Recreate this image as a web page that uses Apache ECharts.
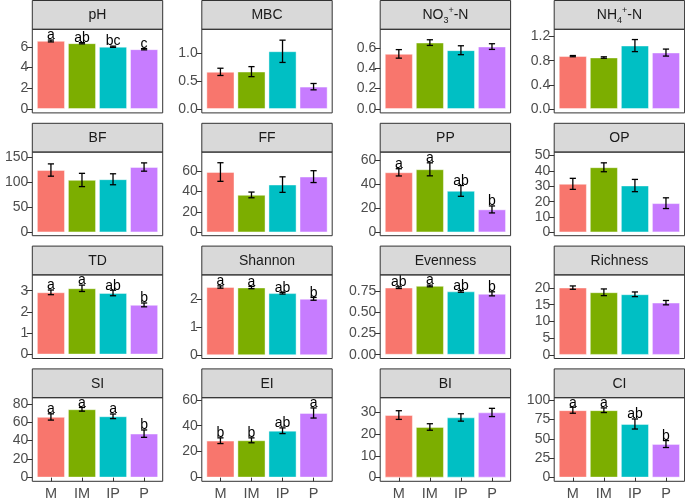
<!DOCTYPE html>
<html>
<head>
<meta charset="utf-8">
<script src="https://cdn.jsdelivr.net/npm/echarts@6/dist/echarts.min.js"></script>
<style>html,body{margin:0;padding:0;background:#fff}#c{width:685px;height:501px}</style>
</head>
<body>
<div id="c"></div>
<script>
// ---- data ----
const groups = ['M', 'IM', 'IP', 'P'];
const colors = ['#F8766D', '#7CAE00', '#00BFC4', '#C77CFF'];
const panelNames = ['pH','MBC','NO3','NH4','BF','FF','PP','OP','TD','Shannon','Evenness','Richness','SI','EI','BI','CI'];

const mean_pH = [6.58, 6.36, 6.02, 5.78];      const se_pH = [0.09, 0.06, 0.06, 0.06];
const mean_MBC = [0.666, 0.67, 1.035, 0.40];   const se_MBC = [0.065, 0.09, 0.2, 0.057];
const mean_NO3 = [0.542, 0.653, 0.578, 0.614]; const se_NO3 = [0.042, 0.028, 0.044, 0.028];
const mean_NH4 = [0.875, 0.852, 1.05, 0.934];  const se_NH4 = [0.01, 0.012, 0.1, 0.058];
const mean_BF = [124.7, 104.8, 106.2, 130.7];  const se_BF = [12.3, 13.3, 11, 8.3];
const mean_FF = [59, 36.6, 46.7, 54.5];        const se_FF = [9.1, 2.8, 7.6, 5.8];
const mean_PP = [49.8, 52.3, 34.4, 19];        const se_PP = [3, 5.4, 4.5, 2.9];
const mean_OP = [31.6, 42.4, 30.5, 19];        const se_OP = [3.6, 2.9, 4, 3.5];
const mean_TD = [2.92, 3.11, 2.89, 2.33];      const se_TD = [0.11, 0.15, 0.13, 0.09];
const mean_Shannon = [2.42, 2.40, 2.2, 2.0];   const se_Shannon = [0.04, 0.04, 0.03, 0.05];
const mean_Evenness = [0.79, 0.81, 0.745, 0.717]; const se_Evenness = [0.01, 0.01, 0.01, 0.024];
const mean_Richness = [20.1, 18.7, 18.1, 15.6];   const se_Richness = [0.5, 1.0, 0.7, 0.65];
const mean_SI = [65.7, 74, 66.4, 47.6];        const se_SI = [3.4, 2, 2.5, 4];
const mean_EI = [28.4, 28.7, 36.1, 49.8];      const se_EI = [2.2, 1.9, 2.2, 3.9];
const mean_BI = [28.8, 23.3, 27.7, 30];        const se_BI = [2, 1.5, 1.7, 1.9];
const mean_CI = [87, 87, 69.2, 43.3];          const se_CI = [3.9, 3, 6.5, 4.5];

const letters_pH = ['a', 'ab', 'bc', 'c'];
const letters_PP = ['a', 'a', 'ab', 'b'];
const letters_TD = ['a', 'a', 'ab', 'b'];
const letters_Shannon = ['a', 'a', 'ab', 'b'];
const letters_Evenness = ['ab', 'a', 'ab', 'b'];
const letters_SI = ['a', 'a', 'a', 'b'];
const letters_EI = ['b', 'b', 'ab', 'a'];
const letters_CI = ['a', 'a', 'ab', 'b'];

const yMin = [-0.385, -0.071, -0.039, -0.066, -6.8, -3.3, -2.8, -2.2, -0.19, -0.12, -0.045, -1.1, -3.8, -2.7, -1.6, -4.5];
const yMax = [7.71, 1.43, 0.784, 1.32, 160.6, 78.5, 66.6, 52.3, 3.74, 2.85, 0.94, 23.9, 86.6, 61.6, 36.8, 103.2];

const ticks_pH = [0, 2, 4, 6];
const ticks_MBC = [0, 0.5, 1.0];
const ticks_NO3 = [0, 0.2, 0.4, 0.6];
const ticks_NH4 = [0, 0.4, 0.8, 1.2];
const ticks_BF = [0, 50, 100, 150];
const ticks_FF = [0, 20, 40, 60];
const ticks_PP = [0, 20, 40, 60];
const ticks_OP = [0, 10, 20, 30, 40, 50];
const ticks_TD = [0, 1, 2, 3];
const ticks_Shannon = [0, 1, 2];
const ticks_Evenness = [0, 0.25, 0.5, 0.75];
const ticks_Richness = [0, 5, 10, 15, 20];
const ticks_SI = [0, 20, 40, 60, 80];
const ticks_EI = [0, 20, 40, 60];
const ticks_BI = [0, 10, 20, 30];
const ticks_CI = [0, 25, 50, 75, 100];
const tickDecimals = [0, 1, 1, 1, 0, 0, 0, 0, 0, 0, 2, 0, 0, 0, 0, 0];

const D = {
  pH: [mean_pH, se_pH, letters_pH, ticks_pH],
  MBC: [mean_MBC, se_MBC, null, ticks_MBC],
  NO3: [mean_NO3, se_NO3, null, ticks_NO3],
  NH4: [mean_NH4, se_NH4, null, ticks_NH4],
  BF: [mean_BF, se_BF, null, ticks_BF],
  FF: [mean_FF, se_FF, null, ticks_FF],
  PP: [mean_PP, se_PP, letters_PP, ticks_PP],
  OP: [mean_OP, se_OP, null, ticks_OP],
  TD: [mean_TD, se_TD, letters_TD, ticks_TD],
  Shannon: [mean_Shannon, se_Shannon, letters_Shannon, ticks_Shannon],
  Evenness: [mean_Evenness, se_Evenness, letters_Evenness, ticks_Evenness],
  Richness: [mean_Richness, se_Richness, null, ticks_Richness],
  SI: [mean_SI, se_SI, letters_SI, ticks_SI],
  EI: [mean_EI, se_EI, letters_EI, ticks_EI],
  BI: [mean_BI, se_BI, null, ticks_BI],
  CI: [mean_CI, se_CI, letters_CI, ticks_CI]
};

// ---- layout ----
const FONT = '"Liberation Sans", Arial, Helvetica, sans-serif';
const colLeft = [32.3, 201.8, 380.2, 554.2];
const panelW = 130.4;
const plotTop0 = 29.3, rowPitch = 122.8, plotH = 83.6, stripH = 28.8;
const inset = panelW * 0.1 / 4.2;
const catW = panelW * 4 / 4.2;

const grids = [], xAxes = [], yAxes = [], series = [], graphics = [];

panelNames.forEach((name, i) => {
  const r = Math.floor(i / 4), c = i % 4;
  const [means, ses, letters, ticks] = D[name];
  const top = plotTop0 + r * rowPitch;
  const left = colLeft[c];
  grids.push({ left: left + inset, top: top, width: catW, height: plotH, containLabel: false });
  const bottomRow = r === 3;
  xAxes.push({
    type: 'category', gridIndex: i, data: groups, boundaryGap: true,
    axisLine: { show: false },
    axisTick: { show: bottomRow, alignWithLabel: true, length: 3.8, lineStyle: { color: '#333', width: 1 } },
    axisLabel: { show: bottomRow, color: '#4D4D4D', fontSize: 14.5, fontFamily: FONT, margin: 5 },
    splitLine: { show: false }
  });
  yAxes.push({
    type: 'value', gridIndex: i, min: yMin[i], max: yMax[i], offset: inset,
    axisLine: { show: false },
    axisTick: { show: true, length: 5.5, customValues: ticks, lineStyle: { color: '#333', width: 1 } },
    axisLabel: { color: '#4D4D4D', fontSize: 14, fontFamily: FONT, margin: 4, customValues: ticks,
      formatter: v => Number(v).toFixed(tickDecimals[i]) },
    splitLine: { show: false }
  });
  series.push({
    type: 'bar', xAxisIndex: i, yAxisIndex: i, barWidth: '90%',
    data: means.map((v, k) => ({ value: v, itemStyle: { color: colors[k] } })),
    itemStyle: { borderColor: 'rgba(255,255,255,0.55)', borderWidth: 0.8 },
    silent: true, animation: false
  });
  series.push({
    type: 'custom', xAxisIndex: i, yAxisIndex: i, animation: false, silent: true, z: 5,
    data: means.map((v, k) => [k, v, ses[k]]),
    renderItem: (params, api) => {
      const k = api.value(0), m = api.value(1), s = api.value(2);
      const pt = api.coord([k, m + s]);
      const pb = api.coord([k, m - s]);
      const hw = api.size([1, 0])[0] * 0.1;
      const ls = { stroke: '#000', lineWidth: 1.3 };
      const children = [
        { type: 'line', shape: { x1: pt[0], y1: pt[1], x2: pb[0], y2: pb[1] }, style: ls },
        { type: 'line', shape: { x1: pt[0] - hw, y1: pt[1], x2: pt[0] + hw, y2: pt[1] }, style: ls },
        { type: 'line', shape: { x1: pb[0] - hw, y1: pb[1], x2: pb[0] + hw, y2: pb[1] }, style: ls }
      ];
      if (letters) {
        children.push({ type: 'text', x: pt[0], y: pt[1] + 2.5,
          style: { text: letters[params.dataIndex], textAlign: 'center', textVerticalAlign: 'bottom',
            fontSize: 14, fontFamily: FONT, fill: '#000' } });
      }
      return { type: 'group', children };
    }
  });
  // panel border
  graphics.push({ type: 'rect', z: 100, shape: { x: left, y: top, width: panelW, height: plotH },
    style: { fill: 'none', stroke: '#333', lineWidth: 1 }, silent: true });
  // strip
  let stripText = name;
  if (name === 'NO3') { stripText = '{n|NO}{sb|3}{sp|+}{n|-N}'; }
  if (name === 'NH4') { stripText = '{n|NH}{sb|4}{sp|+}{n|-N}'; }
  const rich = {
    n: { fontSize: 14, fontFamily: FONT, fill: '#1A1A1A', lineHeight: 19, verticalAlign: 'middle' },
    sb: { fontSize: 9, fontFamily: FONT, fill: '#1A1A1A', lineHeight: 19, verticalAlign: 'bottom' },
    sp: { fontSize: 9, fontFamily: FONT, fill: '#1A1A1A', lineHeight: 19, verticalAlign: 'top' }
  };
  graphics.push({ type: 'rect', z: 99, shape: { x: left, y: top - stripH, width: panelW, height: stripH },
    style: { fill: '#D9D9D9', stroke: '#333', lineWidth: 1 }, silent: true });
  graphics.push({ type: 'text', z: 101, x: left + panelW / 2, y: top - stripH / 2 + 0.5,
    style: { text: stripText, rich: rich, fontSize: 14, fontFamily: FONT, fill: '#1A1A1A',
      textAlign: 'center', textVerticalAlign: 'middle', align: 'center', verticalAlign: 'middle' }, silent: true });
});

const chart = echarts.init(document.getElementById('c'), null, { renderer: 'canvas' });
chart.setOption({
  backgroundColor: '#fff',
  animation: false,
  grid: grids, xAxis: xAxes, yAxis: yAxes, series: series, graphic: graphics
});
</script>
</body>
</html>
